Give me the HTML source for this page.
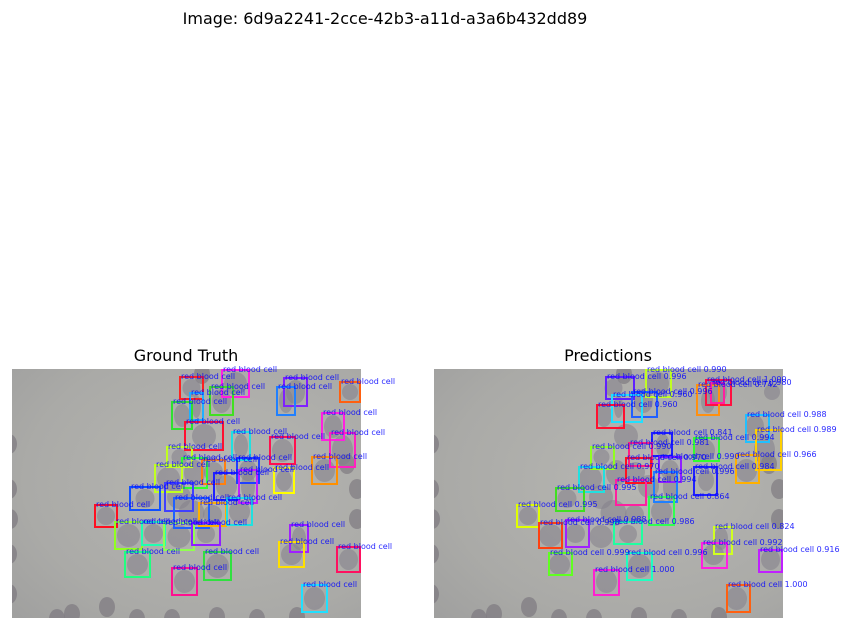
<!DOCTYPE html>
<html><head><meta charset="utf-8"><style>
body{margin:0;background:#fff;}
svg{display:block;font-family:"DejaVu Sans","Liberation Sans",sans-serif;}
</style></head><body>
<svg id="fig" width="854" height="630">
<defs>
<radialGradient id="bg" cx="0.6" cy="0.45" r="0.8">
<stop offset="0" stop-color="#b6b6b2"/><stop offset="0.7" stop-color="#aaaaa7"/><stop offset="1" stop-color="#a0a09f"/>
</radialGradient>
<clipPath id="clip"><rect x="0" y="0" width="349" height="249"/></clipPath>
</defs>
<text x="385" y="24" text-anchor="middle" font-size="16" fill="#000">Image: 6d9a2241-2cce-42b3-a11d-a3a6b432dd89</text>
<text x="186" y="361" text-anchor="middle" font-size="16" fill="#000">Ground Truth</text>
<text x="608" y="361" text-anchor="middle" font-size="16" fill="#000">Predictions</text>
<g id="gt" transform="translate(12,369)"></g>
<g id="pr" transform="translate(434,369)"></g>
</svg>
<script>
// extra cells (image-local coords) not under boxes
const cellX=[-3,-3,-3,-3,-2,45,125,160,205,245,345,345,335,285,95,60,190];
const cellY=[75,120,185,225,150,250,250,250,248,250,120,150,95,248,238,245,5];
// ground truth boxes
const gtX=[168,210,198,178,160,272,265,328,173,310,220,258,318,155,300,170,190,225,143,262,202,227,118,153,162,187,215,83,103,130,152,180,113,192,278,267,325,160,290];
const gtY=[8,1,18,24,33,9,18,13,53,44,63,68,64,78,88,89,91,89,96,99,104,101,118,114,129,134,129,136,153,153,154,154,183,183,156,173,178,199,216];
const gtW=[23,27,23,13,20,23,18,20,38,22,18,25,25,25,25,25,23,22,27,20,25,18,30,28,35,27,25,22,27,23,30,28,25,27,18,25,23,25,25];
const gtH=[22,27,28,27,27,28,28,20,28,27,28,27,34,20,27,30,24,25,27,25,27,33,23,28,30,23,27,22,27,23,27,22,25,28,27,25,25,27,27];
const gtC=["#ff2020","#ff20e0","#40e020","#20b0ff","#30e030","#8020ff","#2080ff","#ff6010","#ff1030","#ff20e0","#20e0e0","#ff1050","#ff20c0","#c0ff20","#ff9000","#30ff30","#ff8010","#2040ff","#c0ff20","#ffff00","#2020ff","#c020ff","#1050ff","#4040ff","#2060ff","#ffb000","#20e0e0","#ff1020","#90ff20","#20ffb0","#90ff50","#9020ff","#20ff80","#30e040","#a020ff","#ffe000","#ff1060","#ff1090","#20e0ff"];
// prediction boxes
const prX=[172,212,272,263,277,198,178,163,312,322,218,260,195,157,302,192,225,145,260,220,182,122,215,83,105,132,180,280,268,325,115,193,160,293];
const prY=[8,1,11,16,14,23,26,36,46,61,64,69,74,78,86,89,88,98,98,103,111,119,128,136,154,151,153,158,174,181,184,184,201,216];
const prW=[28,25,25,22,13,25,30,27,23,25,20,25,23,23,23,25,22,25,23,23,30,28,25,22,23,23,28,18,25,23,23,25,25,23];
const prH=[22,27,25,30,20,25,27,23,27,40,23,23,23,22,28,25,25,25,28,30,25,23,28,22,25,27,22,27,25,22,22,27,25,27];
const prS=["0.996","0.990","1.000","0.742","0.980","0.996","0.960","0.960","0.988","0.989","0.841","0.994","0.981","0.990","0.966","0.970","0.990","0.970","0.984","0.996","0.994","0.995","0.864","0.995","0.998","0.988","0.986","0.824","0.992","0.916","0.999","0.996","1.000","1.000"];
const prC=["#6020ff","#c0ff20","#ff1040","#ff9010","#ff20a0","#2060ff","#20e0ff","#ff1030","#20c0ff","#ffd000","#2020ff","#30ff30","#ff2080","#90ff20","#ffb000","#ff1020","#9020ff","#20e0e0","#2020ff","#2080ff","#ff20a0","#40e020","#30ff50","#e0ff00","#ff4010","#a020ff","#20ffa0","#d0ff20","#ff20e0","#c020ff","#60ff20","#20ffc0","#ff20d0","#ff6010"];
const NS="http://www.w3.org/2000/svg";
function mk(tag,attrs,parent){const e=document.createElementNS(NS,tag);for(const k in attrs)e.setAttribute(k,attrs[k]);parent.appendChild(e);return e;}
function drawImage(g){
  const ig=mk('g',{'clip-path':'url(#clip)'},g);
  const bg=mk('rect',{x:0,y:0,width:349,height:249,fill:'url(#bg)'},ig);
  
  
  for(let i=0;i<cellX.length;i++){
    const c=mk('ellipse',{cx:cellX[i],cy:cellY[i],rx:8,ry:10,fill:'#76727a',opacity:0.6},ig);
    
    
  }
  for(let i=0;i<gtX.length;i++){
    const c=mk('ellipse',{cx:gtX[i]+gtW[i]/2,cy:gtY[i]+gtH[i]/2,rx:Math.min(gtW[i],gtH[i])/2-2,ry:gtH[i]/2-2,fill:'#84808a',opacity:0.55},ig);
    
    
  }
}
function drawBoxes(g,X,Y,W,H,C,S){
  for(let i=0;i<X.length;i++){
    const r=mk('rect',{x:X[i],y:Y[i],width:W[i],height:H[i],fill:'none',stroke:C[i],'stroke-width':2},g);
    
    
  }
  for(let i=0;i<X.length;i++){
    const t=mk('text',{x:X[i]+1,y:Y[i]+2,'font-size':8,fill:'#0000ff','fill-opacity':0.85},g);
    t.textContent='red blood cell'+(S?' '+S[i]:'');
    
    
  }
}
const gt=document.getElementById('gt'),pr=document.getElementById('pr');
drawImage(gt);drawImage(pr);
drawBoxes(gt,gtX,gtY,gtW,gtH,gtC,null);
drawBoxes(pr,prX,prY,prW,prH,prC,prS);
</script>
</body></html>
